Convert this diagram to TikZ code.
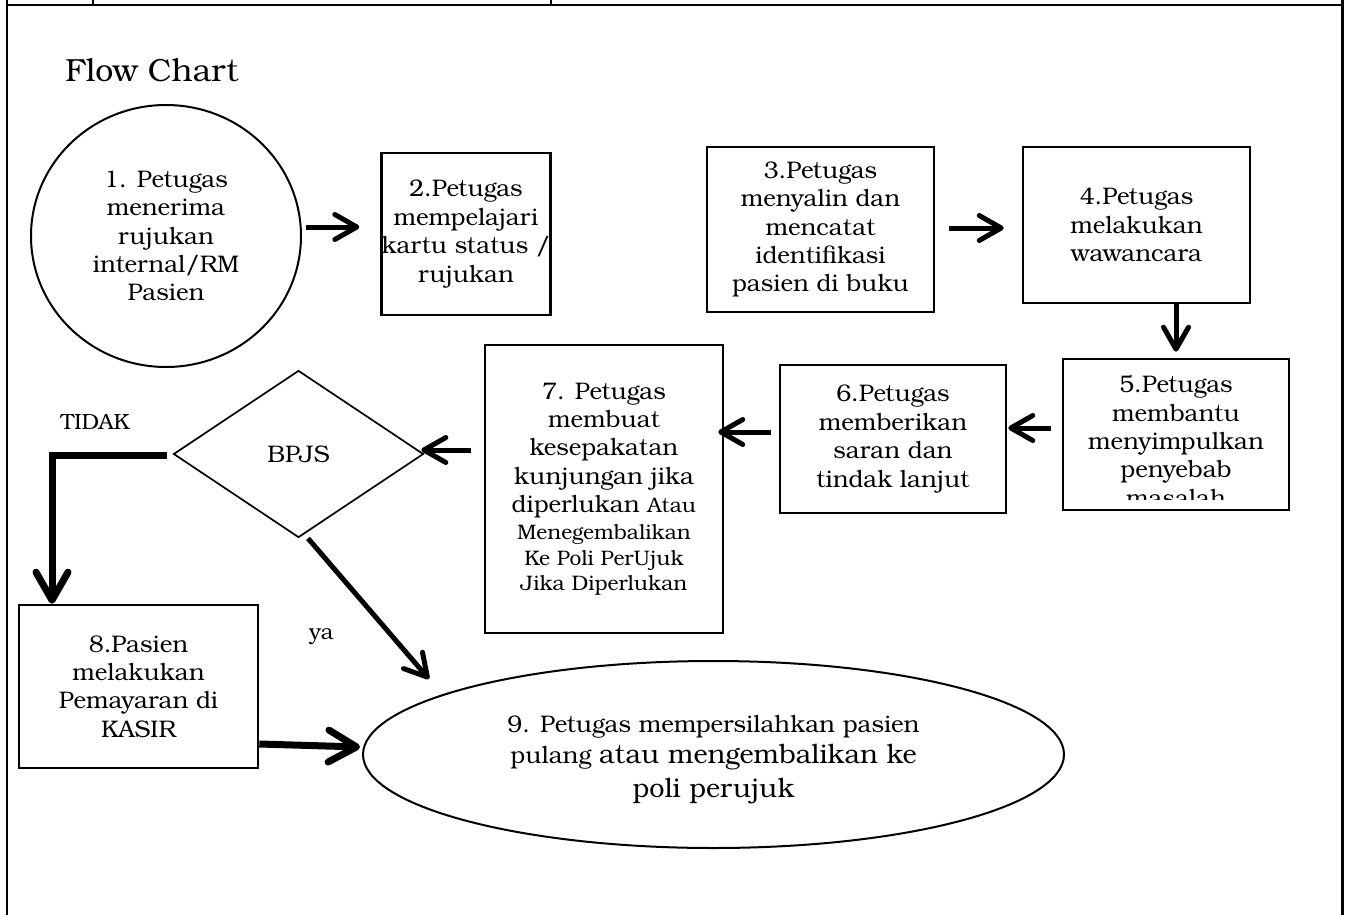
\documentclass[tikz,border=0pt]{standalone}
\usepackage{fontspec}
\setmainfont{TeX Gyre Bonum}
\usetikzlibrary{shapes.geometric,arrows.meta,calc}
\begin{document}
\begin{tikzpicture}[x=0.5pt,y=-0.5pt,
  txt/.style={font=\fontsize{12}{14.2}\selectfont},
  stepbox/.style={draw, line width=1.3pt, inner sep=0pt, align=center, txt},
  roundstep/.style={draw, ellipse, line width=1pt, inner sep=0pt, align=center, txt},
  arr/.style={line width=2.5pt, -{Straight Barb[length=11pt,width=12.5pt,round]}},
  bigarr/.style={line width=3.5pt, -{Straight Barb[length=14pt,width=16pt,round]}},
  pageline/.style={line width=1.2pt},
  small/.style={font=\fontsize{11}{13}\selectfont}
]
\useasboundingbox (0,0) rectangle (1349,915);

% page frame and header row
\draw[pageline] (7,0) -- (7,915);
\draw[line width=1.5pt] (1342,0) -- (1342,915);
\draw[pageline] (7,5) -- (1342,5);
\draw[pageline] (93,0) -- (93,5);
\draw[pageline] (551,0) -- (551,5);

% title
\node[font=\fontsize{16}{19}\selectfont, anchor=base west, inner sep=0pt] (title) at (65,82) {Flow Chart};

% process steps
\node[roundstep, minimum width=135pt, minimum height=131pt] (n1) at (166,236)
  {1. Petugas\\menerima\\rujukan\\internal/RM\\Pasien};
\node[stepbox, minimum width=84pt, minimum height=81pt] (n2) at (466,234)
  {2.Petugas\\mempelajari\\kartu status /\\rujukan};
\node[stepbox, minimum width=113.5pt, minimum height=82.5pt] (n3) at (820.5,229.5)
  {3.Petugas\\menyalin dan\\mencatat\\identifikasi\\pasien di buku};
\node[stepbox, minimum width=113.5pt, minimum height=78pt] (n4) at (1136.5,225)
  {4.Petugas\\melakukan\\wawancara};
\node[stepbox, minimum width=113pt, minimum height=75.5pt] (n5) at (1176,434.5) {};
\begin{scope}
  \clip (n5.north west) rectangle ([shift={(0,-12)}]n5.south east);
  \node[txt, align=center, inner sep=0pt, anchor=north] (n5text) at (1176,375)
    {5.Petugas\\membantu\\menyimpulkan\\penyebab\\masalah};
\end{scope}
\node[stepbox, minimum width=113pt, minimum height=74pt] (n6) at (893,439)
  {6.Petugas\\memberikan\\saran dan\\tindak lanjut};
\node[stepbox, minimum width=119pt, minimum height=144pt] (n7) at (604,489)
  {7. Petugas\\membuat\\kesepakatan\\kunjungan jika\\diperlukan {\fontsize{10.5}{12.5}\selectfont Atau}\\[-0.6pt]
   {\fontsize{10.5}{12.5}\selectfont Menegembalikan}\\[-1.6pt]
   {\fontsize{10.5}{12.5}\selectfont Ke Poli PerUjuk}\\[-1.6pt]
   {\fontsize{10.5}{12.5}\selectfont Jika Diperlukan}};
\node[draw, diamond, line width=0.85pt, inner sep=0pt, minimum width=125pt, minimum height=83.5pt, txt] (d) at (298.5,454) {BPJS};
\node[stepbox, minimum width=119.5pt, minimum height=81.5pt] (n8) at (138.5,686.5)
  {8.Pasien\\melakukan\\Pemayaran di\\KASIR};
\node[roundstep, minimum width=350.5pt, minimum height=93.5pt] (n9) at (713.5,754.5) {};
\node[txt, align=center, inner sep=0pt] (n9text) at ([shift={(0,5)}]n9.center)
  {9. Petugas mempersilahkan pasien\\[1.2pt]
   pulang {\fontsize{13.5}{16}\selectfont atau mengembalikan ke}\\[2.6pt]
   {\fontsize{13.5}{16}\selectfont poli perujuk}};

% branch labels
\node[small] (tidak) at (95,422) {TIDAK};
\node[small] (ya) at (321.5,637) {ya};

% connectors
\draw[arr] ([shift={(4,-9)}]n1.east) -- ([shift={(-21,-7)}]n2.west);
\draw[arr] ([shift={(14,-1.5)}]n3.east) -- ([shift={(-18,3)}]n4.west);
\draw[arr] (n4.south -| n5.north) -- ([shift={(0,-6)}]n5.north);
\draw[arr] ([shift={(-11,-6.5)}]n5.west) -- ([shift={(1,-11)}]n6.east);
\draw[arr] ([shift={(-8,-7)}]n6.west) -- ([shift={(-6,-57)}]n7.east);
\draw[arr] ([shift={(-13,-39)}]n7.west) -- ([shift={(-3,-4)}]d.east);
\draw[bigarr] ([shift={(-6,1)}]d.west) -| ([shift={(-86.5,0)}]n8.north);
\draw[arr] ([shift={(9.5,0)}]d.south) -- ([shift={(-284.5,-75.5)}]n9.center);
\draw[bigarr] ([shift={(0,57.5)}]n8.east) -- ([shift={(-2,-7.5)}]n9.west);
\end{tikzpicture}
\end{document}
